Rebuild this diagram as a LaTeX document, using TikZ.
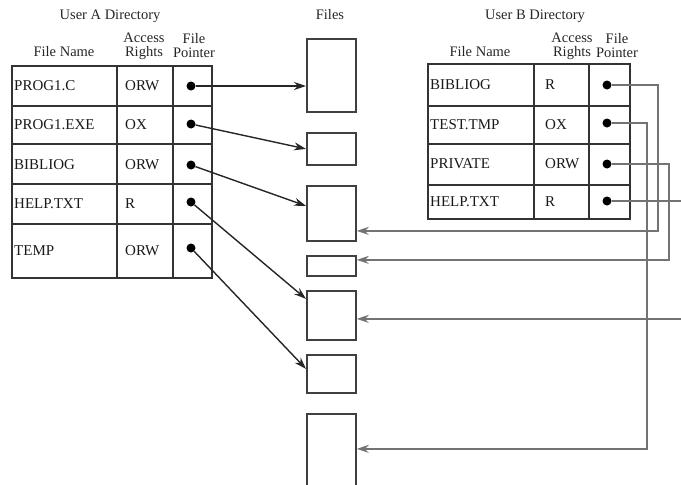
\documentclass[tikz,border=0pt]{standalone}
\usepackage{fontspec}
\setmainfont{Liberation Serif}
\usetikzlibrary{arrows.meta}

\tikzset{
  grid/.style={line width=1.4pt, black!80},
  cell/.style={anchor=west, inner sep=0pt, text=black!90, font=\fontsize{15}{15}\selectfont},
  head/.style={align=center, inner sep=0pt, text=black!85, font=\fontsize{14.5}{14}\selectfont},
  ptr/.style={circle, fill=black, inner sep=0pt, minimum size=9pt},
  filebox/.style={rectangle, draw=black!75, line width=1.8pt, anchor=north west, minimum width=49pt, inner sep=0pt},
  link/.style={-{Stealth[length=12pt,width=8pt]}, line width=1.4pt, black!85},
  blink/.style={-{Stealth[length=12pt,width=8pt]}, line width=1.3pt, black!55}
}

\begin{document}
\begin{tikzpicture}[x=1pt, y=-1pt]
    \useasboundingbox (0,0) rectangle (681,485);

    % User A directory
    \node (titleA) [head] at (110,16) {User A Directory};
    \node (nameA) [head] at (64,52) {File Name};
    \node (rightsA) [head] at (144,46) {Access\\Rights};
    \node (pointerA) [head] at (194,46) {File\\Pointer};
    \draw[grid] (12,66) rectangle (212,278);
    \draw[grid] (117,66) -- (117,278) (173,66) -- (173,278);
    \draw[grid] (12,106) -- (212,106) (12,144) -- (212,144)
                (12,184) -- (212,184) (12,224) -- (212,224);

    \node (na1) [cell] at (14,86) {PROG1.C};
    \node (na2) [cell] at (14,125) {PROG1.EXE};
    \node (na3) [cell] at (14,165) {BIBLIOG};
    \node (na4) [cell] at (14,204) {HELP.TXT};
    \node (na5) [cell] at (14,251) {TEMP};
    \node (ra1) [cell] at (125,86) {ORW};
    \node (ra2) [cell] at (125,125) {OX};
    \node (ra3) [cell] at (125,165) {ORW};
    \node (ra4) [cell] at (125,204) {R};
    \node (ra5) [cell] at (125,251) {ORW};
    \node (a1) [ptr] at (191,86) {};
    \node (a2) [ptr] at (191,124) {};
    \node (a3) [ptr] at (191,165) {};
    \node (a4) [ptr] at (191,202) {};
    \node (a5) [ptr] at (191,248) {};

    % User B directory
    \node (titleB) [head] at (535,16) {User B Directory};
    \node (nameB) [head] at (480,52) {File Name};
    \node (rightsB) [head] at (572,46) {Access\\Rights};
    \node (pointerB) [head] at (617,46) {File\\Pointer};
    \draw[grid] (428,64) rectangle (630,219);
    \draw[grid] (534,64) -- (534,219) (589,64) -- (589,219);
    \draw[grid] (428,106) -- (630,106) (428,144) -- (630,144) (428,185) -- (630,185);

    \node (nb1) [cell] at (430,85) {BIBLIOG};
    \node (nb2) [cell] at (430,125) {TEST.TMP};
    \node (nb3) [cell] at (430,164) {PRIVATE};
    \node (nb4) [cell] at (430,202) {HELP.TXT};
    \node (rb1) [cell] at (545,85) {R};
    \node (rb2) [cell] at (545,125) {OX};
    \node (rb3) [cell] at (545,164) {ORW};
    \node (rb4) [cell] at (545,202) {R};
    \node (b1) [ptr] at (607,85) {};
    \node (b2) [ptr] at (607,123) {};
    \node (b3) [ptr] at (607,164) {};
    \node (b4) [ptr] at (607,201) {};

    % Files
    \node (files) [head] at (330,15) {Files};
    \node (f1) [filebox, minimum height=73pt] at (306,38) {};
    \node (f2) [filebox, minimum height=32pt] at (306,132) {};
    \node (f3) [filebox, minimum height=55pt] at (306,185) {};
    \node (f4) [filebox, minimum height=20pt] at (306,255) {};
    \node (f5) [filebox, minimum height=49pt] at (306,290) {};
    \node (f6) [filebox, minimum height=38pt] at (306,354) {};
    \node (f7) [filebox, minimum height=77pt] at (306,413) {};

    % Arrows from A
    \draw[link] (a1) -- (f1.west |- a1);
    \draw[link] (a2) -- (f2.west);
    \draw[link] (a3) -- ([yshift=7.5pt]f3.west);
    \draw[link] (a4) -- ([yshift=16.5pt]f5.west);
    \draw[link] (a5) -- ([yshift=5pt]f6.west);

    % Arrows from B
    \draw[blink] (b1) -- ++(51,0) |- ([yshift=-17.5pt]f3.east);
    \draw[blink] (b2) -- ++(40,0) |- ([yshift=3.5pt]f7.east);
    \draw[blink] (b3) -- ++(62,0) |- ([yshift=6pt]f4.east);
    \draw[blink] (b4) -- ++(79,0) |- ([yshift=-3.5pt]f5.east);
\end{tikzpicture}
\end{document}
